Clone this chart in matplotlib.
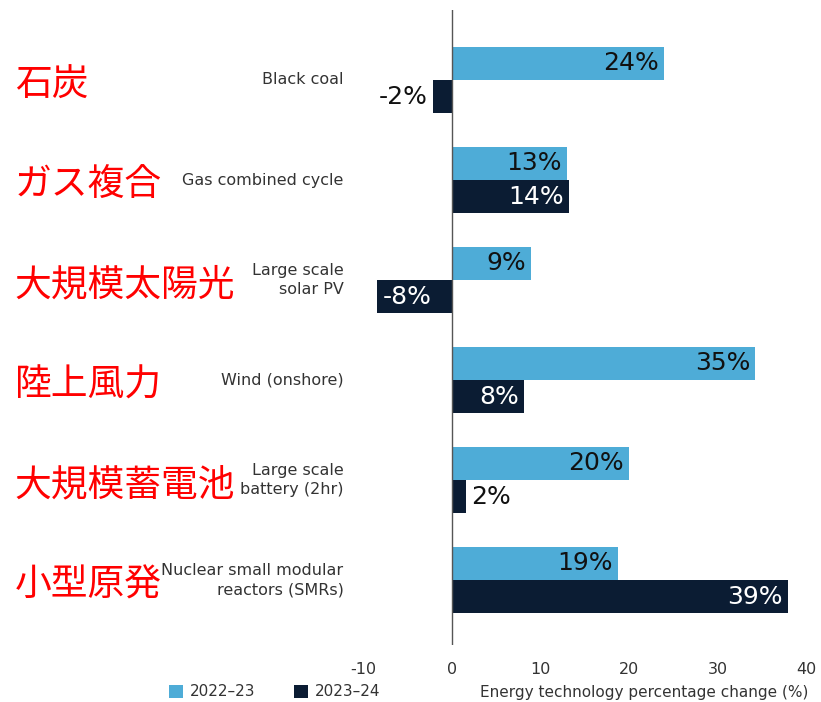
import matplotlib.pyplot as plt
import numpy as np

plt.rcParams['font.family'] = ['DejaVu Sans']
plt.rcParams['axes.unicode_minus'] = False

categories = ['Black coal', 'Gas combined cycle', 'Large scale\nsolar PV', 'Wind (onshore)',
              'Large scale\nbattery (2hr)', 'Nuclear small modular\nreactors (SMRs)']
jp_labels = ['石炭', 'ガス複合', '大規模太陽光', '陸上風力', '大規模蓄電池', '小型原発']
vals_2223 = [24.0, 13.0, 9.0, 34.3, 20.0, 18.8]
vals_2324 = [-2.1, 13.3, -8.4, 8.2, 1.6, 38.0]
labels_2223 = ['24%', '13%', '9%', '35%', '20%', '19%']
labels_2324 = ['-2%', '14%', '-8%', '8%', '2%', '39%']
series_names = ['2022–23', '2023–24']

light = '#4EACD7'
dark = '#0B1C33'

W, H = 821, 702
fig = plt.figure(figsize=(W / 100, H / 100), dpi=100)
ax = fig.add_axes([363 / W, 1 - 645 / H, 443 / W, 635 / H])

y = np.arange(len(categories))
h = 0.33
b1 = ax.barh(y - h / 2, vals_2223, height=h, color=light, label=series_names[0])
b2 = ax.barh(y + h / 2, vals_2324, height=h, color=dark, label=series_names[1])

ax.set_xlim(-10, 40)
ax.set_ylim(5.65, -0.7)
ax.axvline(0, color='#555555', lw=1)
for s in ax.spines.values():
    s.set_visible(False)
ax.set_yticks([])
ax.set_xticks([-10, 0, 10, 20, 30, 40])
ax.tick_params(axis='x', length=0, pad=12, labelsize=11.5, labelcolor='#333333')


def put_labels(bars, vals, texts, inside_color):
    for bar, v, t in zip(bars, vals, texts):
        yc = bar.get_y() + bar.get_height() / 2
        pad = 0.6
        if abs(v) >= 5:
            if v > 0:
                ax.text(v - pad, yc, t, ha='right', va='center', fontsize=18,
                        color=inside_color)
            else:
                ax.text(v + pad, yc, t, ha='left', va='center', fontsize=18,
                        color=inside_color)
        else:
            if v > 0:
                ax.text(v + pad, yc, t, ha='left', va='center', fontsize=18, color='#111111')
            else:
                ax.text(v - pad, yc, t, ha='right', va='center', fontsize=18, color='#111111')


put_labels(b1, vals_2223, labels_2223, '#111111')
put_labels(b2, vals_2324, labels_2324, 'white')

for yi, cat, jp in zip(y, categories, jp_labels):
    ax.text(-12.2, yi, cat, ha='right', va='center', fontsize=11.5, color='#333333',
            linespacing=1.35)
    ax.text(-49.3, yi + 0.05, jp, ha='left', va='center', fontsize=26.5, color='#ff0000',
            family=['Noto Sans CJK JP', 'DejaVu Sans'])

fig.legend(handles=[b1, b2], loc='center left', bbox_to_anchor=(155 / W, 1 - 692 / H),
           ncol=2, frameon=False, fontsize=11, handlelength=0.9, handleheight=0.9,
           handletextpad=0.5, columnspacing=2.5, labelcolor='#333333')
fig.text(808 / W, 1 - 693 / H, 'Energy technology percentage change (%)', ha='right',
         va='center', fontsize=11, color='#333333')

fig.savefig('out.png', dpi=100)
